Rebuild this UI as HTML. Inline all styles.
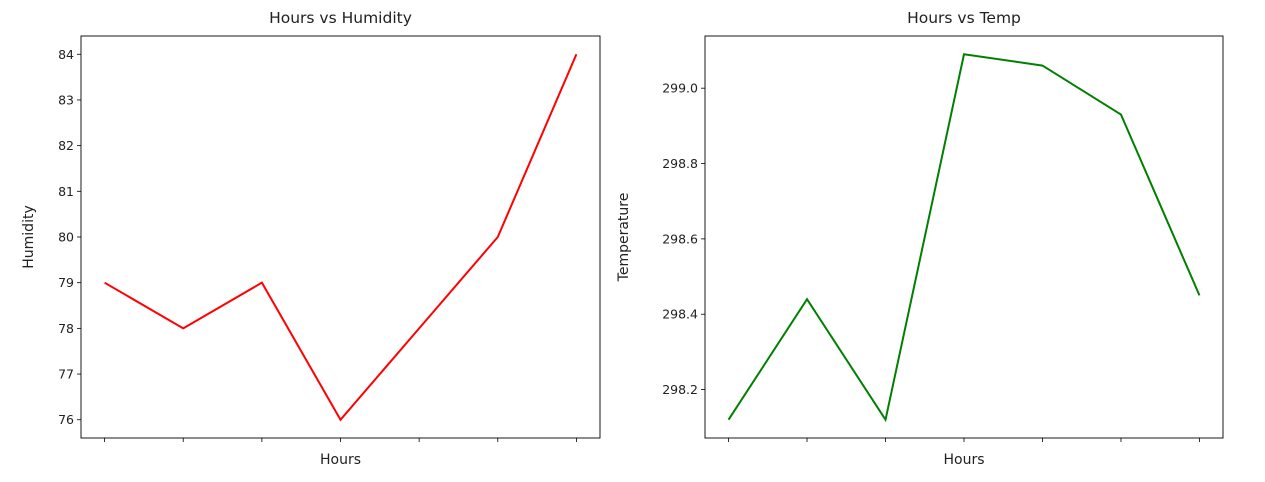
<!DOCTYPE html>
<html><head><meta charset="utf-8"><style>
body{margin:0;background:#fff;font-family:"Liberation Sans","DejaVu Sans",sans-serif;}
svg text{font-family:"DejaVu Sans","Liberation Sans",sans-serif;fill:#222;}
</style></head><body>
<svg id="chart" width="1265" height="477" xmlns="http://www.w3.org/2000/svg"></svg>
<script>
const hoursCategories = [0,1,2,3,4,5,6];
const humidityValues = [79,78,79,76,78,80,84];
const humidityTicks = [76,77,78,79,80,81,82,83,84];
const tempValues = [298.12,298.44,298.12,299.09,299.06,298.93,298.45];
const tempTicks = [298.2,298.4,298.6,298.8,299.0];

const svg = document.getElementById('chart');
const NS = 'http://www.w3.org/2000/svg';
function mk(tag, attrs, parent){const e=document.createElementNS(NS,tag);for(const k in attrs)e.setAttribute(k,attrs[k]);(parent||svg).appendChild(e);return e;}

function panel(cfg){
  const {x0,x1,y0,y1,vals,ticks,color,title,ylabel,fmt,key}=cfg;
  const mn=Math.min(...vals),mx=Math.max(...vals),m=(mx-mn)*0.05;
  const ymin=mn-m,ymax=mx+m;
  const n=hoursCategories.length;
  const xw=(x1-x0)/( (n-1)*1.1 );
  const xs=i=>x0+(i+0.3)*xw;
  const ys=v=>y1-(v-ymin)/(ymax-ymin)*(y1-y0);
  const g=mk('g',{});
  
  
  const t=mk('text',{x:(x0+x1)/2,y:y0-13,'text-anchor':'middle','font-size':15.5},g);t.textContent=title;
  
  
  ticks.forEach(v=>{
    const y=ys(v);
    mk('line',{x1:x0-4,x2:x0,y1:y,y2:y,stroke:'#000','stroke-width':0.8},g);
    const tl=mk('text',{x:x0-7,y:y+4.5,'text-anchor':'end','font-size':12.5},g);tl.textContent=fmt(v);
    
    
  });
  hoursCategories.forEach((c,i)=>{
    mk('line',{x1:xs(i),x2:xs(i),y1:y1,y2:y1+4,stroke:'#000','stroke-width':0.8},g);
  });
  const xl=mk('text',{x:(x0+x1)/2,y:y1+26,'text-anchor':'middle','font-size':14},g);xl.textContent='Hours';
  
  
  const yx=cfg.ylx, yy=(y0+y1)/2;
  const yl=mk('text',{x:yx,y:yy,'text-anchor':'middle','font-size':14,transform:`rotate(-90 ${yx} ${yy})`},g);yl.textContent=ylabel;
  
  
  const pts=vals.map((v,i)=>xs(i)+','+ys(v)).join(' ');
  const pl=mk('polyline',{points:pts,fill:'none',stroke:color,'stroke-width':2},g);
  
  
  const fr=mk('rect',{x:x0,y:y0,width:x1-x0,height:y1-y0,fill:'none',stroke:'#000','stroke-width':0.9},g);
  
  
}
panel({x0:81,x1:600,y0:36,y1:438,vals:humidityValues,ticks:humidityTicks,color:'#ff0000',title:'Hours vs Humidity',ylabel:'Humidity',fmt:v=>String(v),key:'humidity',ylx:33});
panel({x0:705,x1:1223,y0:36,y1:438,vals:tempValues,ticks:tempTicks,color:'#008000',title:'Hours vs Temp',ylabel:'Temperature',fmt:v=>v.toFixed(1),key:'temp',ylx:628});
</script>
</body></html>
